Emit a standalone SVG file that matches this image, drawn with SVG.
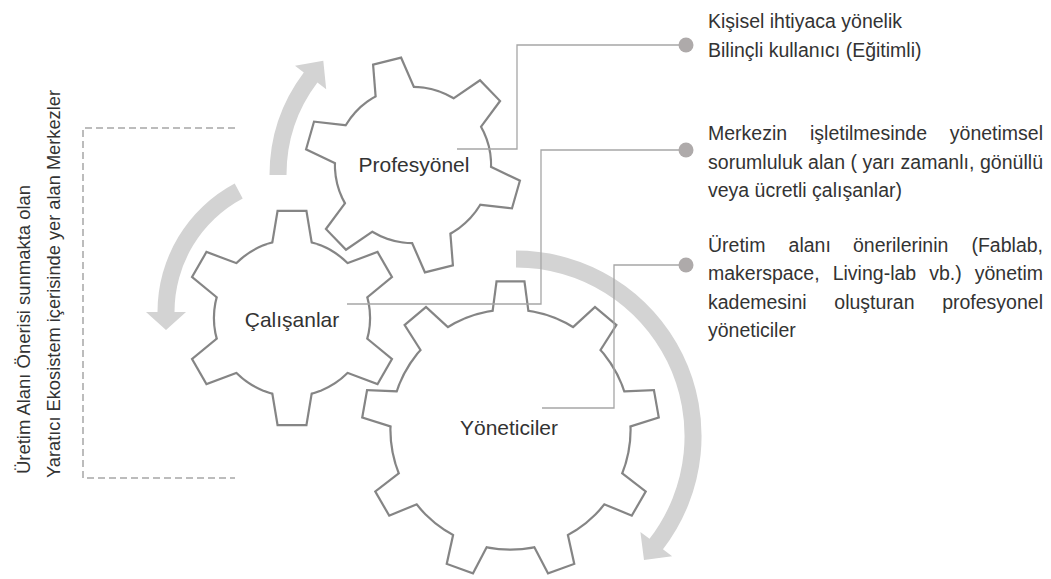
<svg xmlns="http://www.w3.org/2000/svg" width="1051" height="579" viewBox="0 0 1051 579">
  <style>
    .txt { font-family: "Liberation Sans", Arial, sans-serif; fill: #333; }
    .note { font-size: 19.5px; }
    .label { font-size: 21px; text-anchor: middle; }
    .side { font-size: 18.5px; }
    .arrow { fill: #d3d3d3; }
    .edge { fill: #858585; stroke: #858585; stroke-width: 4.4; stroke-linejoin: miter; }
    .face { fill: #fff; stroke: none; }
    .link { fill: none; stroke: #a6a6a6; stroke-width: 1.3; }
    .dot { fill: #aeaaaa; }
    .bracket { fill: none; stroke: #a6a6a6; stroke-width: 1.5; stroke-dasharray: 7 4; }
  </style>
  <defs>
    <!-- six-tooth gear, centred on the origin -->
    <g id="gearS">
      <circle r="77"/>
      <polygon points="-19.5,-70 -13.5,-106 13.5,-106 19.5,-70"/>
      <polygon points="-19.5,-70 -13.5,-106 13.5,-106 19.5,-70" transform="rotate(60)"/>
      <polygon points="-19.5,-70 -13.5,-106 13.5,-106 19.5,-70" transform="rotate(120)"/>
      <polygon points="-19.5,-70 -13.5,-106 13.5,-106 19.5,-70" transform="rotate(180)"/>
      <polygon points="-19.5,-70 -13.5,-106 13.5,-106 19.5,-70" transform="rotate(240)"/>
      <polygon points="-19.5,-70 -13.5,-106 13.5,-106 19.5,-70" transform="rotate(300)"/>
    </g>
    <!-- nine-tooth gear, centred on the origin -->
    <g id="gearL">
      <circle r="119"/>
      <polygon points="-17.5,-113 -13,-147 13,-147 17.5,-113"/>
      <polygon points="-17.5,-113 -13,-147 13,-147 17.5,-113" transform="rotate(40)"/>
      <polygon points="-17.5,-113 -13,-147 13,-147 17.5,-113" transform="rotate(80)"/>
      <polygon points="-17.5,-113 -13,-147 13,-147 17.5,-113" transform="rotate(120)"/>
      <polygon points="-17.5,-113 -13,-147 13,-147 17.5,-113" transform="rotate(160)"/>
      <polygon points="-17.5,-113 -13,-147 13,-147 17.5,-113" transform="rotate(200)"/>
      <polygon points="-17.5,-113 -13,-147 13,-147 17.5,-113" transform="rotate(240)"/>
      <polygon points="-17.5,-113 -13,-147 13,-147 17.5,-113" transform="rotate(280)"/>
      <polygon points="-17.5,-113 -13,-147 13,-147 17.5,-113" transform="rotate(320)"/>
    </g>
  </defs>

  <rect width="1051" height="579" fill="#fff"/>

  <!-- side caption with dashed bracket -->
  <g id="ecosystem-caption">
    <path class="bracket" d="M235,128 H83 V478 H235"/>
    <text class="txt side" transform="translate(30 474) rotate(-90)" textLength="289" lengthAdjust="spacingAndGlyphs">Üretim Alanı Önerisi sunmakta olan</text>
    <text class="txt side" transform="translate(60 478) rotate(-90)" textLength="388" lengthAdjust="spacingAndGlyphs">Yaratıcı Ekosistem içerisinde yer alan Merkezler</text>
  </g>

  <!-- rotation arrows around the gears -->
  <g id="cycle-arrows">
    <path class="arrow" d="M269.5,175 A170.5,170.5 0 0 1 303.8,72.4 L295,65.8 L323.3,60.7 L326.2,89.2 L317.4,82.6 A153.5,153.5 0 0 0 286.5,175 Z"/>
    <path class="arrow" d="M234.7,183.5 A145.5,145.5 0 0 0 157.5,312 L146,312 L166,330 L186,312 L174.5,312 A128.5,128.5 0 0 1 242.7,198.5 Z"/>
    <path class="arrow" d="M516,250.5 A185.5,185.5 0 0 1 662.97,549.25 L672.1,556.3 L644,559.9 L640.4,531.9 L649.5,538.87 A168.5,168.5 0 0 0 516,267.5 Z"/>
  </g>

  <g id="gear-profesyonel">
    <g transform="translate(413 165) rotate(-14)">
      <use href="#gearS" class="edge"/>
      <use href="#gearS" class="face"/>
    </g>
    <text class="txt label" x="414" y="172">Profesyönel</text>
  </g>

  <g id="gear-calisanlar">
    <g transform="translate(292 318)">
      <use href="#gearS" class="edge"/>
      <use href="#gearS" class="face"/>
    </g>
    <text class="txt label" x="292" y="327">Çalışanlar</text>
  </g>

  <g id="gear-yoneticiler">
    <g transform="translate(510.5 429.5)">
      <use href="#gearL" class="edge"/>
      <use href="#gearL" class="face"/>
    </g>
    <text class="txt label" x="509" y="435">Yöneticiler</text>
  </g>

  <!-- leader lines from each gear to its description -->
  <g id="connectors">
    <path class="link" d="M686,45 H517 V149 H457"/>
    <path class="link" d="M686,150 H541 V304 H347"/>
    <path class="link" d="M686,265 H614 V408 H542"/>
    <circle class="dot" cx="686" cy="45" r="7.5"/>
    <circle class="dot" cx="686" cy="150" r="7.5"/>
    <circle class="dot" cx="686" cy="265" r="7.5"/>
  </g>

  <g id="note-profesyonel" class="txt note">
    <text x="708" y="27.5">Kişisel ihtiyaca yönelik</text>
    <text x="708" y="57">Bilinçli kullanıcı (Eğitimli)</text>
  </g>

  <g id="note-calisanlar" class="txt note">
    <text y="140"><tspan x="708">Merkezin</tspan><tspan x="810">işletilmesinde</tspan><tspan x="1043" text-anchor="end">yönetimsel</tspan></text>
    <text x="708" y="168.5" textLength="335" lengthAdjust="spacing">sorumluluk alan ( yarı zamanlı, gönüllü</text>
    <text x="708" y="197">veya ücretli çalışanlar)</text>
  </g>

  <g id="note-yoneticiler" class="txt note">
    <text y="251.5"><tspan x="708">Üretim</tspan><tspan x="788.6">alanı</tspan><tspan x="853">önerilerinin</tspan><tspan x="1043" text-anchor="end">(Fablab,</tspan></text>
    <text y="280"><tspan x="708">makerspace,</tspan><tspan x="832.7">Living-lab</tspan><tspan x="929.2">vb.)</tspan><tspan x="1043" text-anchor="end">yönetim</tspan></text>
    <text y="308.5"><tspan x="708">kademesini</tspan><tspan x="834.3">oluşturan</tspan><tspan x="1043" text-anchor="end">profesyonel</tspan></text>
    <text x="708" y="337">yöneticiler</text>
  </g>
</svg>
